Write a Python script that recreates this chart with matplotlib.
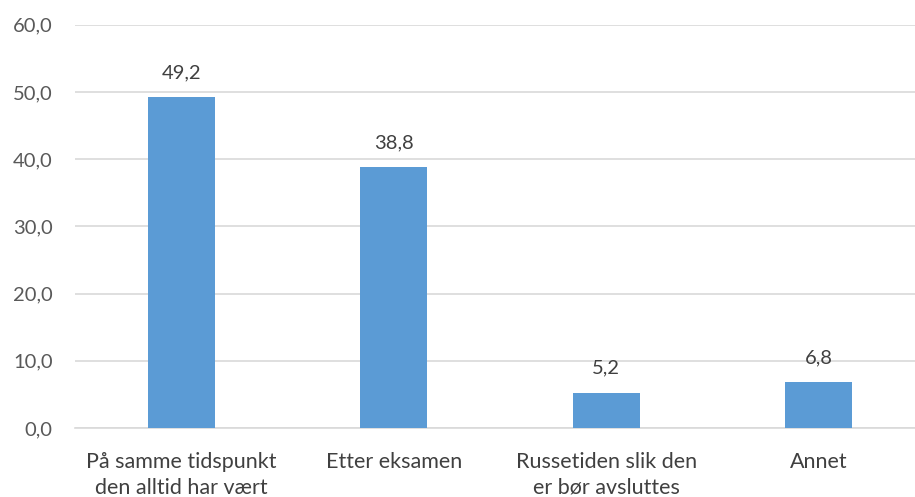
import matplotlib.pyplot as plt
import numpy as np

categories = ["På samme tidspunkt\nden alltid har vært", "Etter eksamen",
              "Russetiden slik den\ner bør avsluttes", "Annet"]
values = [49.2, 38.8, 5.2, 6.8]
yticks = [0, 10, 20, 30, 40, 50, 60]

plt.rcParams['font.family'] = ['Lato', 'DejaVu Sans']

fig = plt.figure(figsize=(9.15, 4.97), dpi=100)
# plot area runs slightly past the right edge, like the cropped original
ax = fig.add_axes([0.082, 0.139, 0.929, 0.811])

x = np.arange(len(categories))
ax.bar(x, values, width=0.315, color='#5B9BD5', zorder=3)
for xi, v in zip(x, values):
    ax.text(xi, v + 2.4, f"{v:.1f}".replace('.', ','), ha='center', va='bottom',
            fontsize=14.5, color='#404040')

ax.set_ylim(0, 60)
ax.set_xlim(-0.5, len(categories) - 0.5)
ax.set_yticks(yticks)
ax.set_yticklabels([f"{t:.1f}".replace('.', ',') for t in yticks], fontsize=14.5, color='#595959')
ax.set_xticks(x)
ax.set_xticklabels(categories, fontsize=15.5, color='#404040', linespacing=1.4)
ax.grid(axis='y', color='#D9D9D9', linewidth=1.2, zorder=0)
for s in ['top', 'right', 'left']:
    ax.spines[s].set_visible(False)
ax.spines['bottom'].set_color('#D9D9D9')
ax.spines['bottom'].set_linewidth(1.2)
ax.tick_params(axis='both', length=0)
ax.tick_params(axis='x', pad=17)
ax.tick_params(axis='y', pad=16)

fig.savefig('out.png', dpi=100)
